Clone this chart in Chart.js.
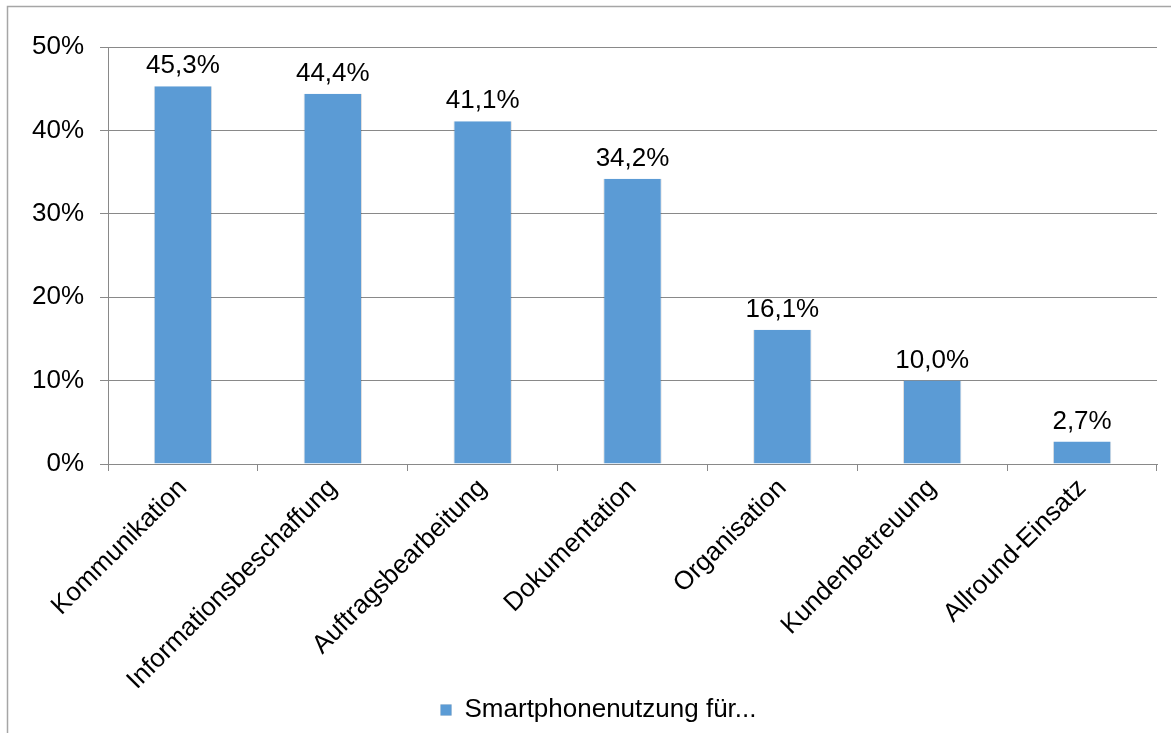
<!DOCTYPE html>
<html lang="de">
<head>
<meta charset="utf-8">
<title>Smartphonenutzung</title>
<script src="https://cdn.jsdelivr.net/npm/chart.js@4"></script>
<style>
    html, body { margin: 0; padding: 0; background: #ffffff; }
    #wrap { width: 1171px; height: 733px; position: relative; }
</style>
</head>
<body>
<div id="wrap"><canvas id="nutzung" width="1171" height="733"></canvas></div>
<script>
// Anteile der Nennungen je Einsatzzweck
const kategorien = ['Kommunikation', 'Informationsbeschaffung', 'Auftragsbearbeitung', 'Dokumentation', 'Organisation', 'Kundenbetreuung', 'Allround-Einsatz'];
const anteile = [45.3, 44.4, 41.1, 34.2, 16.1, 10.0, 2.7];
const yTicks = [0, 10, 20, 30, 40, 50];
const serienName = 'Smartphonenutzung für...';

const blau = '#5B9BD5';
const schrift = '"Liberation Sans", Arial, sans-serif';
const groesse = 26;

// Prozentwerte mit Komma wie im deutschen Format
function formatProzent(wert, stellen) {
    return wert.toFixed(stellen).replace('.', ',') + '%';
}

// Rahmen um das Diagramm (oben und links)
const rahmenPlugin = {
    id: 'rahmen',
    beforeDraw(chart) {
        const ctx = chart.ctx;
        ctx.save();
        ctx.strokeStyle = '#a6a6a6';
        ctx.lineWidth = 1.5;
        ctx.beginPath();
        ctx.moveTo(7.5, 733);
        ctx.lineTo(7.5, 6.5);
        ctx.lineTo(1171, 6.5);
        ctx.stroke();
        ctx.restore();
    }
};

// Legende etwas nach rechts schieben
const legendeVersatz = {
    id: 'legendeVersatz',
    afterLayout(chart) {
        if (chart.legend) {
            chart.legend.left += 20;
            chart.legend.right += 20;
        }
    }
};

// Werte über den Balken
const wertePlugin = {
    id: 'werte',
    afterDatasetsDraw(chart) {
        const ctx = chart.ctx;
        const meta = chart.getDatasetMeta(0);
        ctx.save();
        ctx.font = groesse + 'px ' + schrift;
        ctx.fillStyle = '#000000';
        ctx.textAlign = 'center';
        ctx.textBaseline = 'bottom';
        meta.data.forEach((bar, i) => {
            ctx.fillText(formatProzent(anteile[i], 1), bar.x, bar.y - 7);
        });
        ctx.restore();
    }
};

const ctx = document.getElementById('nutzung').getContext('2d');

new Chart(ctx, {
    type: 'bar',
    data: {
        labels: kategorien,
        datasets: [{
            label: serienName,
            data: anteile,
            backgroundColor: blau,
            borderColor: 'rgba(0, 0, 0, 0.13)',
            borderWidth: { left: 1, right: 1, top: 0, bottom: 0 },
            borderSkipped: false,
            barPercentage: 0.39,
            categoryPercentage: 1.0
        }]
    },
    options: {
        responsive: false,
        animation: false,
        devicePixelRatio: 1,
        layout: {
            padding: { top: 47, right: 14, bottom: 0, left: 0 }
        },
        plugins: {
            tooltip: { enabled: false },
            legend: {
                position: 'bottom',
                labels: {
                    font: { family: schrift, size: groesse },
                    color: '#000000',
                    boxWidth: 11,
                    boxHeight: 11,
                    padding: 9
                }
            }
        },
        scales: {
            x: {
                afterFit(scale) { scale.height = 224; },
                grid: {
                    drawOnChartArea: false,
                    drawTicks: true,
                    tickLength: 7,
                    color: '#898989'
                },
                border: { display: true, color: '#898989' },
                ticks: {
                    minRotation: 45,
                    maxRotation: 45,
                    autoSkip: false,
                    padding: 2,
                    color: '#000000',
                    font: { family: schrift, size: groesse }
                }
            },
            y: {
                min: 0,
                max: 50,
                afterFit(scale) { scale.width = 108; },
                afterBuildTicks(scale) {
                    scale.ticks = yTicks.map(v => ({ value: v }));
                },
                grid: {
                    color: '#898989',
                    tickLength: 8
                },
                border: { display: true, color: '#898989' },
                ticks: {
                    padding: 16,
                    color: '#000000',
                    font: { family: schrift, size: groesse },
                    callback: value => value + '%'
                }
            }
        }
    },
    plugins: [rahmenPlugin, legendeVersatz, wertePlugin]
});
</script>
</body>
</html>
